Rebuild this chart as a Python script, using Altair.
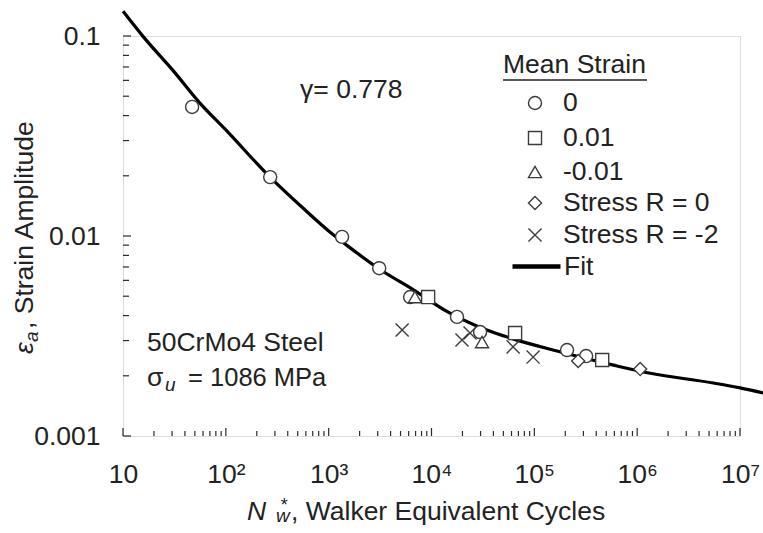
import altair as alt
import pandas as pd

# ---------------- data ----------------
circle_N = [47, 270, 1350, 3100, 6200, 17700, 29700, 208000, 319000]
circle_e = [0.0442, 0.0197, 0.0099, 0.0069, 0.00495, 0.00394, 0.00331, 0.00269, 0.00251]
square_N = [9270, 65000, 457000]
square_e = [0.00495, 0.00327, 0.0024]
tri_N = [6900, 31000]
tri_e = [0.00495, 0.00295]
diam_N = [267000, 1070000]
diam_e = [0.00237, 0.00216]
cross_N = [5180, 19800, 23700, 62200, 97300]
cross_e = [0.00339, 0.00302, 0.00327, 0.00279, 0.00248]

fit_N = [10, 15.8, 31.6, 56, 100, 269, 562, 1000, 1585, 3160, 6610, 14100,
         29500, 63100, 166000, 589000, 1260000, 5500000, 10000000, 17000000]
fit_e = [0.133, 0.099, 0.066, 0.0462, 0.0339, 0.0197, 0.0138, 0.0106, 0.0088,
         0.0068, 0.0054, 0.0042, 0.0035, 0.00305, 0.00266, 0.00226, 0.00207,
         0.00184, 0.00174, 0.00164]

groups = ["0", "0.01", "-0.01", "Stress R = 0", "Stress R = -2"]
shapes = ["circle", "square", "triangle-up", "diamond", "M-1,-1L1,1M-1,1L1,-1"]

x_major = [10, 100, 1000, 10000, 100000, 1000000, 10000000]
x_minor = [m * 10 ** k for k in range(1, 7) for m in range(2, 10)]
y_major = [0.001, 0.01, 0.1]
y_minor = [m * 10.0 ** k for k in (-3, -2) for m in range(2, 10)]

FONT = "Liberation Sans"
TXT = "#222222"
MK = "#3c3c3c"
FR = "#2a2a2a"
FS = 26.5
W, H = 617, 400

# legend layout (pixels inside the plot area)
LEG_TITLE_X, LEG_TITLE_Y = 380, 29
LEG_SYM_X, LEG_LAB_X = 412, 440
LEG_ROWS = [67, 102, 136, 167, 199]

# ---------------- tables ----------------
pts = pd.DataFrame({
    "N": circle_N + square_N + tri_N + diam_N + cross_N,
    "e": circle_e + square_e + tri_e + diam_e + cross_e,
    "g": ([groups[0]] * len(circle_N) + [groups[1]] * len(square_N)
          + [groups[2]] * len(tri_N) + [groups[3]] * len(diam_N)
          + [groups[4]] * len(cross_N)),
})
fit = pd.DataFrame({"N": fit_N, "e": fit_e, "s": ["Fit"] * len(fit_N)})

xs = alt.Scale(type="log", domain=[10, 1e7], nice=False)
ys = alt.Scale(type="log", domain=[0.001, 0.1], nice=False)
shape_scale = alt.Scale(domain=groups, range=shapes)

x_axis = alt.Axis(
    values=x_major,
    labelExpr="'10' + ['', '', '\u00b2', '\u00b3', '\u2074', '\u2075', '\u2076', '\u2077'][round(log(datum.value)/LN10)]",
    ticks=False, tickSize=0, domain=False, grid=False,
    labelFont=FONT, labelFontSize=FS, labelColor=TXT, labelPadding=25,
    labelOverlap=False, labelFlush=False, title="")
y_axis = alt.Axis(
    values=y_major,
    labelExpr="datum.value > 0.05 ? '0.1' : datum.value > 0.005 ? '0.01' : '0.001'",
    ticks=False, tickSize=0, domain=False, grid=False,
    labelFont=FONT, labelFontSize=FS, labelColor=TXT, labelPadding=23,
    labelOverlap=False, labelFlush=False, title="")


def X(f="N"):
    return alt.X(f + ":Q", scale=xs, axis=x_axis)


def Y(f="e"):
    return alt.Y(f + ":Q", scale=ys, axis=y_axis)


line = alt.Chart(fit).mark_line(
    color="black", strokeWidth=3.2, clip=False, interpolate="monotone"
).encode(
    x=X(), y=Y(),
    stroke=alt.Stroke("s:N", scale=alt.Scale(domain=["Fit"], range=["black"]),
                      legend=alt.Legend(
                          title=None, orient="none", legendX=387, legendY=204,
                          symbolType="stroke", symbolSize=2304, symbolStrokeWidth=4.5,
                          labelFont=FONT, labelFontSize=FS, labelColor=TXT,
                          labelOffset=1, padding=0)),
)

points = alt.Chart(pts).mark_point(
    filled=False, fill="white", stroke=MK, strokeWidth=1.4, size=170, opacity=1,
    fillOpacity=1, clip=False
).encode(
    x=X(), y=Y(),
    shape=alt.Shape("g:N", scale=shape_scale, legend=None),
)

# ---------------- legend for the markers ----------------
legend_layers = [
    alt.Chart(pd.DataFrame({"t": ["Mean Strain"]})).mark_text(
        align="left", baseline="middle", font=FONT, fontSize=FS, color=TXT
    ).encode(x=alt.value(LEG_TITLE_X), y=alt.value(LEG_TITLE_Y), text="t:N"),
    alt.Chart(pd.DataFrame({"a": [0]})).mark_rule(color=TXT, strokeWidth=1.3).encode(
        x=alt.value(LEG_TITLE_X), x2=alt.value(LEG_TITLE_X + 144), y=alt.value(44)),
]
for g, shp, ry in zip(groups, shapes, LEG_ROWS):
    one = pd.DataFrame({"g": [g]})
    legend_layers.append(
        alt.Chart(one).mark_point(
            shape=shp, filled=False, fill="white", stroke=MK, strokeWidth=1.4,
            size=170, opacity=1, fillOpacity=1
        ).encode(x=alt.value(LEG_SYM_X), y=alt.value(ry)))
    legend_layers.append(
        alt.Chart(one).mark_text(
            align="left", baseline="middle", font=FONT, fontSize=FS, color=TXT
        ).encode(x=alt.value(LEG_LAB_X), y=alt.value(ry), text="g:N"))


# inward ticks
def xt(vals, ln):
    return alt.Chart(pd.DataFrame({"N": vals})).mark_rule(color=FR, strokeWidth=1.2).encode(
        x=X(), y=alt.value(H), y2=alt.value(H - ln))


def yt(vals, ln):
    return alt.Chart(pd.DataFrame({"e": vals})).mark_rule(color=FR, strokeWidth=1.2).encode(
        y=Y(), x=alt.value(0), x2=alt.value(ln))


# annotations in data coordinates
def note(n, e, txt, size=FS, style="normal"):
    return alt.Chart(pd.DataFrame({"N": [n], "e": [e], "t": [txt]})).mark_text(
        align="left", baseline="middle", font=FONT, fontSize=size, fontStyle=style,
        color=TXT
    ).encode(x=X(), y=Y(), text="t:N")


notes = [
    note(527, 0.0537, "\u03b3= 0.778"),
    note(17.1, 0.00292, "50CrMo4 Steel"),
    note(17.1, 0.00195, "\u03c3"),
    note(25.6, 0.00180, "u", size=19, style="italic"),
    note(42.9, 0.00195, "= 1086 MPa", size=25.5),
]


# axis titles built from pieces (super/subscripts)
def ptxt(txt, x, y, size=FS, style="normal", angle=0):
    return alt.Chart(pd.DataFrame({"t": [txt]})).mark_text(
        align="left", baseline="alphabetic", font=FONT, fontSize=size,
        fontStyle=style, color=TXT, angle=angle
    ).encode(x=alt.value(x), y=alt.value(y), text="t:N")


titles = [
    ptxt("N", 124, 484, style="italic"),
    ptxt("*", 157, 475, size=18, style="italic"),
    ptxt("w", 153, 486, size=19, style="italic"),
    ptxt(", Walker Equivalent Cycles", 168, 484),
    ptxt("\u03b5", -90, 318, style="italic", angle=270),
    ptxt("a", -85, 306, size=19, style="italic", angle=270),
    ptxt(", Strain Amplitude", -90, 293, angle=270),
]

chart = alt.layer(
    line, points,
    xt(x_major, 8), xt(x_minor, 5), yt(y_major, 8), yt(y_minor, 6),
    *legend_layers, *notes, *titles
).properties(
    width=W, height=H,
    autosize=alt.AutoSizeParams(type="none"),
    padding={"left": 123, "top": 36, "right": 23, "bottom": 97},
).configure_view(
    stroke=FR, strokeWidth=1.5
).configure(background="white")

chart.save("out.html", embed_options={"renderer": "svg", "actions": False})
